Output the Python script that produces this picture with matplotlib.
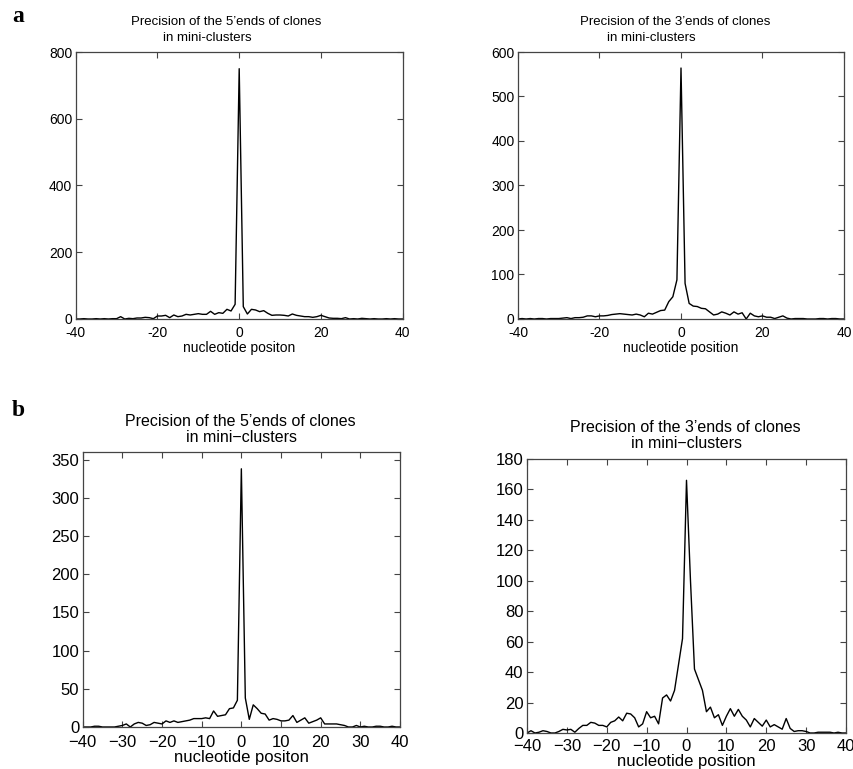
import numpy as np
import matplotlib
matplotlib.use("Agg")
import matplotlib.pyplot as plt

plt.rcParams['font.family'] = ['Liberation Sans', 'DejaVu Sans']

positions = list(range(-40, 41))

# Panel a, 5' ends
a5_counts = [0, 0, 1, 0, 0, 1, 0, 1, 0, 1, 1,
             7, 0, 2, 1, 3, 3, 5, 4, 1, 9, 9, 11, 4, 12, 7, 9, 14, 12, 14, 16,
             14, 14, 23, 14, 19, 17, 29, 24, 44,
             750,
             37, 15, 29, 27, 22, 25, 17, 11, 12, 12, 11, 9, 15, 11, 9, 7, 7, 5, 7,
             11, 7, 3, 2, 2, 1, 4, 0,
             1, 0, 2, 1, 0, 1, 0, 0, 1, 0, 1, 0, 0]
# Panel a, 3' ends
a3_counts = [0, 1, 0, 1, 0, 1, 1, 0, 1, 1,
             1, 2, 3, 1, 3, 3, 4, 7, 7, 5, 7, 7, 8, 10, 11, 12, 11, 10, 9, 11,
             9, 5, 13, 11, 15, 19, 20, 39, 50, 88,
             564,
             80, 35, 29, 28, 24, 23, 16, 9, 11, 16, 13, 9, 16, 11, 14, 0, 13, 7, 5,
             7, 4, 4, 1, 4, 7, 2, 0,
             1, 1, 1, 0, 0, 0, 1, 1, 0, 1, 1, 0, 0]
# Panel b, 5' ends
b5_counts = [0, 0, 0, 1, 1, 0, 0, 0, 0,
             1, 2, 4, 0, 4, 6, 5, 2, 3, 6, 5, 4, 8, 6, 8, 6, 7, 8, 9, 11, 11, 11,
             12, 11, 21, 14, 15, 16, 24, 25, 35,
             338,
             38, 10, 29, 24, 18, 17, 9, 11, 10, 8, 8, 9, 15, 6, 9, 12, 5, 7, 9, 12,
             4, 4, 4, 4, 3, 2, 0, 0, 2, 0, 1, 0, 0, 1, 1, 0, 0, 1, 0, 0]
# Panel b, 3' ends
b3_counts = [0, 1.5, 0, 0.5, 1.5, 1, 0, 0, 1, 2.4, 2, 2.4, 0.5, 3, 5, 5, 7, 6.5,
             5, 5, 4, 7, 8, 10.5, 8, 13, 12.5, 10, 4, 6, 14, 10, 11, 6, 23, 25,
             21, 28, 45, 62,
             166,
             100, 42, 35, 28, 14, 17, 10, 12, 5, 11, 16, 11, 15.5, 11, 8.5, 4, 9.5,
             7, 4.5, 8.5, 4, 5.5, 4, 2.5, 9.5, 3, 1, 1.5, 1.5, 1, 0, 0, 0.5, 0.5,
             0.5, 0.5, 0, 0.5, 0, 0]

title_5 = "Precision of the 5\u2019ends of clones"
title_3 = "Precision of the 3\u2019ends of clones"
sub_a = "in mini-clusters"
sub_b = "in mini\u2212clusters"
xlabel_typo = "nucleotide positon"
xlabel_ok = "nucleotide position"

a_xticks = [-40, -20, 0, 20, 40]
a_xticklabels = ["-40", "-20", "0", "20", "40"]
b_xticks = list(range(-40, 41, 10))
b_xticklabels = ["\u221240", "\u221230", "\u221220", "\u221210", "0", "10", "20", "30", "40"]
a5_yticks = [0, 200, 400, 600, 800]
a3_yticks = [0, 100, 200, 300, 400, 500, 600]
b5_yticks = [0, 50, 100, 150, 200, 250, 300, 350]
b3_yticks = list(range(0, 181, 20))

W, H = 854, 769
fig = plt.figure(figsize=(W / 100, H / 100), dpi=100)
fig.patch.set_facecolor('white')


def rect(l, t, r, b):
    return [l / W, 1 - b / H, (r - l) / W, (b - t) / H]


def style(ax, fs, xpad):
    for s in ax.spines.values():
        s.set_color('#444444')
        s.set_linewidth(0.9)
    ax.tick_params(direction='in', top=True, right=True, length=4, width=0.8,
                   colors='#444444', labelcolor='black', labelsize=fs, pad=2.5)
    ax.tick_params(axis='x', pad=xpad)


# a-left
ax1 = fig.add_axes(rect(75.7, 52, 402.7, 319))
ax1.plot(positions, a5_counts, color='black', lw=1.0)
ax1.set_xlim(-40, 40)
ax1.set_ylim(0, 800)
ax1.set_xticks(a_xticks)
ax1.set_xticklabels(a_xticklabels)
ax1.set_yticks(a5_yticks)
style(ax1, 10, 5)
ax1.set_xlabel(xlabel_typo, fontsize=10, labelpad=1)

# a-right
ax2 = fig.add_axes(rect(518, 52, 844, 319))
ax2.plot(positions, a3_counts, color='black', lw=1.0)
ax2.set_xlim(-40, 40)
ax2.set_ylim(0, 600)
ax2.set_xticks(a_xticks)
ax2.set_xticklabels(a_xticklabels)
ax2.set_yticks(a3_yticks)
style(ax2, 10, 5)
ax2.set_xlabel(xlabel_ok, fontsize=10, labelpad=1)

# b-left
ax3 = fig.add_axes(rect(82.7, 452, 400, 727))
ax3.plot(positions, b5_counts, color='black', lw=1.0)
ax3.set_xlim(-40, 40)
ax3.set_ylim(0, 360)
ax3.set_xticks(b_xticks)
ax3.set_xticklabels(b_xticklabels)
ax3.set_yticks(b5_yticks)
style(ax3, 12, 5.5)
ax3.set_xlabel(xlabel_typo, fontsize=12, labelpad=0)

# b-right
ax4 = fig.add_axes(rect(527, 459, 846, 733))
ax4.plot(positions, b3_counts, color='black', lw=1.0)
ax4.set_xlim(-40, 40)
ax4.set_ylim(0, 180)
ax4.set_xticks(b_xticks)
ax4.set_xticklabels(b_xticklabels)
ax4.set_yticks(b3_yticks)
style(ax4, 12, 4)
ax4.set_xlabel(xlabel_ok, fontsize=12, labelpad=0)

# titles
def ftext(x, y, s, **kw):
    fig.text(x / W, 1 - y / H, s, **kw)

ftext(226, 22, title_5, ha='center', va='center', fontsize=9.5)
ftext(163, 38, sub_a, ha='left', va='center', fontsize=9.5)
ftext(675, 22, title_3, ha='center', va='center', fontsize=9.5)
ftext(607, 38, sub_a, ha='left', va='center', fontsize=9.5)
ftext(240, 421, title_5, ha='center', va='center', fontsize=11.5)
ftext(242, 438, sub_b, ha='center', va='center', fontsize=11.5)
ftext(685, 427, title_3, ha='center', va='center', fontsize=11.5)
ftext(687, 444, sub_b, ha='center', va='center', fontsize=11.5)

# panel letters
ftext(12, 17, "a", ha='left', va='center', fontsize=17, fontweight='bold',
      family=['Liberation Serif', 'DejaVu Serif'])
ftext(12, 410, "b", ha='left', va='center', fontsize=17, fontweight='bold',
      family=['Liberation Serif', 'DejaVu Serif'])

fig.savefig("out.png", dpi=100)
